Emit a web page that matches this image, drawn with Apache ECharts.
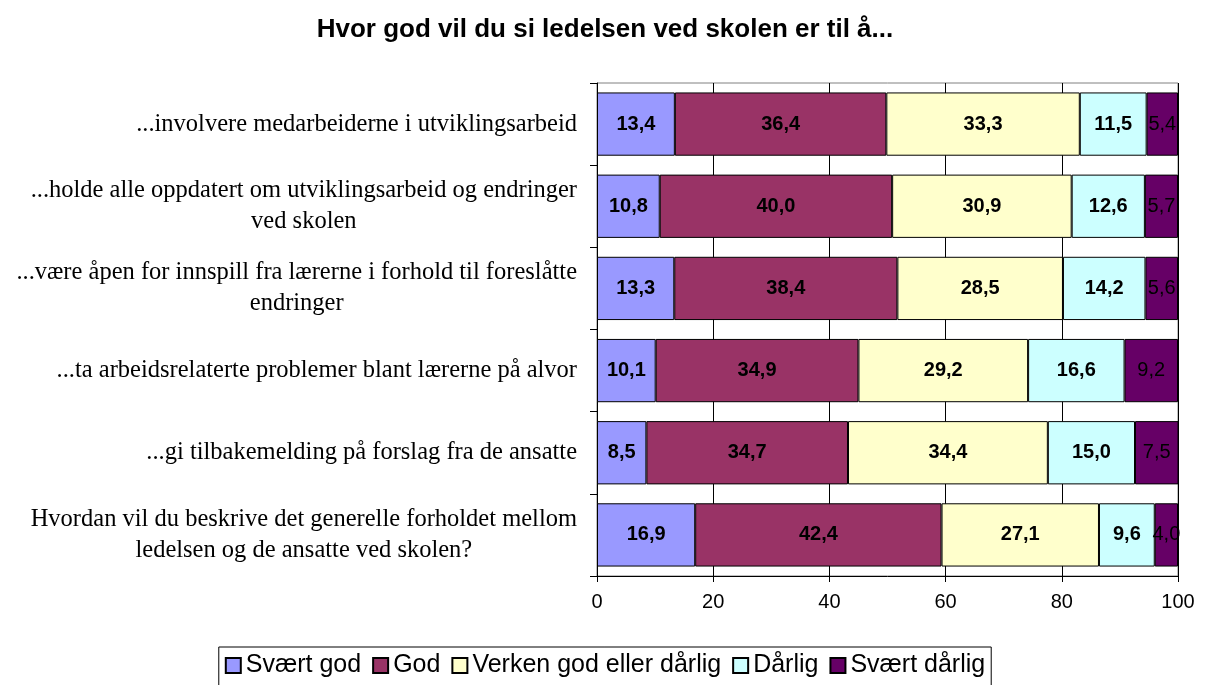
<!DOCTYPE html>
<html><head><meta charset="utf-8">
<script src="https://cdn.jsdelivr.net/npm/echarts@6/dist/echarts.min.js"></script>
<style>html,body{margin:0;padding:0;background:#fff}#c{width:1210px;height:685px}</style>
</head><body><div id="c"></div>
<script>
const categories = [
  "...involvere medarbeiderne i utviklingsarbeid",
  "...holde alle oppdatert om utviklingsarbeid og endringer\nved skolen",
  "...være åpen for innspill fra lærerne i forhold til foreslåtte\nendringer",
  "...ta arbeidsrelaterte problemer blant lærerne på alvor",
  "...gi tilbakemelding på forslag fra de ansatte",
  "Hvordan vil du beskrive det generelle forholdet mellom\nledelsen og de ansatte ved skolen?"
];
const seriesNames = ["Svært god", "God", "Verken god eller dårlig", "Dårlig", "Svært dårlig"];
const sveartGod = [13.4, 10.8, 13.3, 10.1, 8.5, 16.9];
const god = [36.4, 40.0, 38.4, 34.9, 34.7, 42.4];
const verken = [33.3, 30.9, 28.5, 29.2, 34.4, 27.1];
const darlig = [11.5, 12.6, 14.2, 16.6, 15.0, 9.6];
const sveartDarlig = [5.4, 5.7, 5.6, 9.2, 7.5, 4.0];
const xTicks = [0, 20, 40, 60, 80, 100];

const colors = ["#9999FF", "#993366", "#FFFFCC", "#CCFFFF", "#660066"];
const values = [sveartGod, god, verken, darlig, sveartDarlig];
const fmt = v => v.toFixed(1).replace('.', ',');

const chart = echarts.init(document.getElementById('c'));
chart.setOption({
  animation: false,
  title: {
    text: "Hvor god vil du si ledelsen ved skolen er til å...",
    left: 'center', top: 12,
    textStyle: { fontFamily: 'Liberation Sans, Arial', fontSize: 26, fontWeight: 'bold', color: '#000' }
  },
  grid: { left: 597, right: 32, top: 83, bottom: 109, show: true, borderColor: '#808080', borderWidth: 1 },
  legend: {
    data: seriesNames,
    left: 'center', top: 647,
    icon: 'rect', itemWidth: 15, itemHeight: 15, itemGap: 11,
    padding: [6, 6, 14, 6],
    borderColor: '#000', borderWidth: 1,
    textStyle: { fontFamily: 'Liberation Sans, Arial', fontSize: 25, color: '#000', padding: [0, 0, 0, 0] }
  },
  xAxis: {
    type: 'value', min: 0, max: 100, interval: 20,
    axisLine: { show: true, lineStyle: { color: '#000', width: 1 } },
    axisTick: { show: true, length: 6, lineStyle: { color: '#000' } },
    axisLabel: { margin: 16, fontFamily: 'Liberation Sans, Arial', fontSize: 20, color: '#000',
      formatter: v => xTicks.includes(v) ? String(v) : '' },
    splitLine: { show: true, lineStyle: { color: '#000', width: 1 } }
  },
  yAxis: {
    type: 'category', inverse: true, data: categories,
    axisLine: { show: true, lineStyle: { color: '#000', width: 1 } },
    axisTick: { show: true, length: 7, lineStyle: { color: '#000' } },
    axisLabel: {
      margin: 20, align: 'right', color: '#000',
      fontFamily: 'Liberation Serif, Times New Roman', fontSize: 24.5, lineHeight: 31,
      formatter: v => v.split('\n').map(l => '{c|' + l + '}').join('\n'),
      rich: { c: { align: 'center', fontFamily: 'Liberation Serif, Times New Roman', fontSize: 24.5, lineHeight: 31, color: '#000' } }
    }
  },
  series: seriesNames.map((name, i) => ({
    name, type: 'bar', stack: 'total', data: values[i],
    barCategoryGap: '23%',
    itemStyle: { color: colors[i], borderColor: '#000', borderWidth: 1 },
    label: {
      show: true, position: 'inside', color: '#000',
      fontFamily: 'Liberation Sans, Arial', fontSize: 20,
      fontWeight: i === 4 ? 'normal' : 'bold',
      formatter: p => fmt(p.value)
    }
  }))
});
</script></body></html>
